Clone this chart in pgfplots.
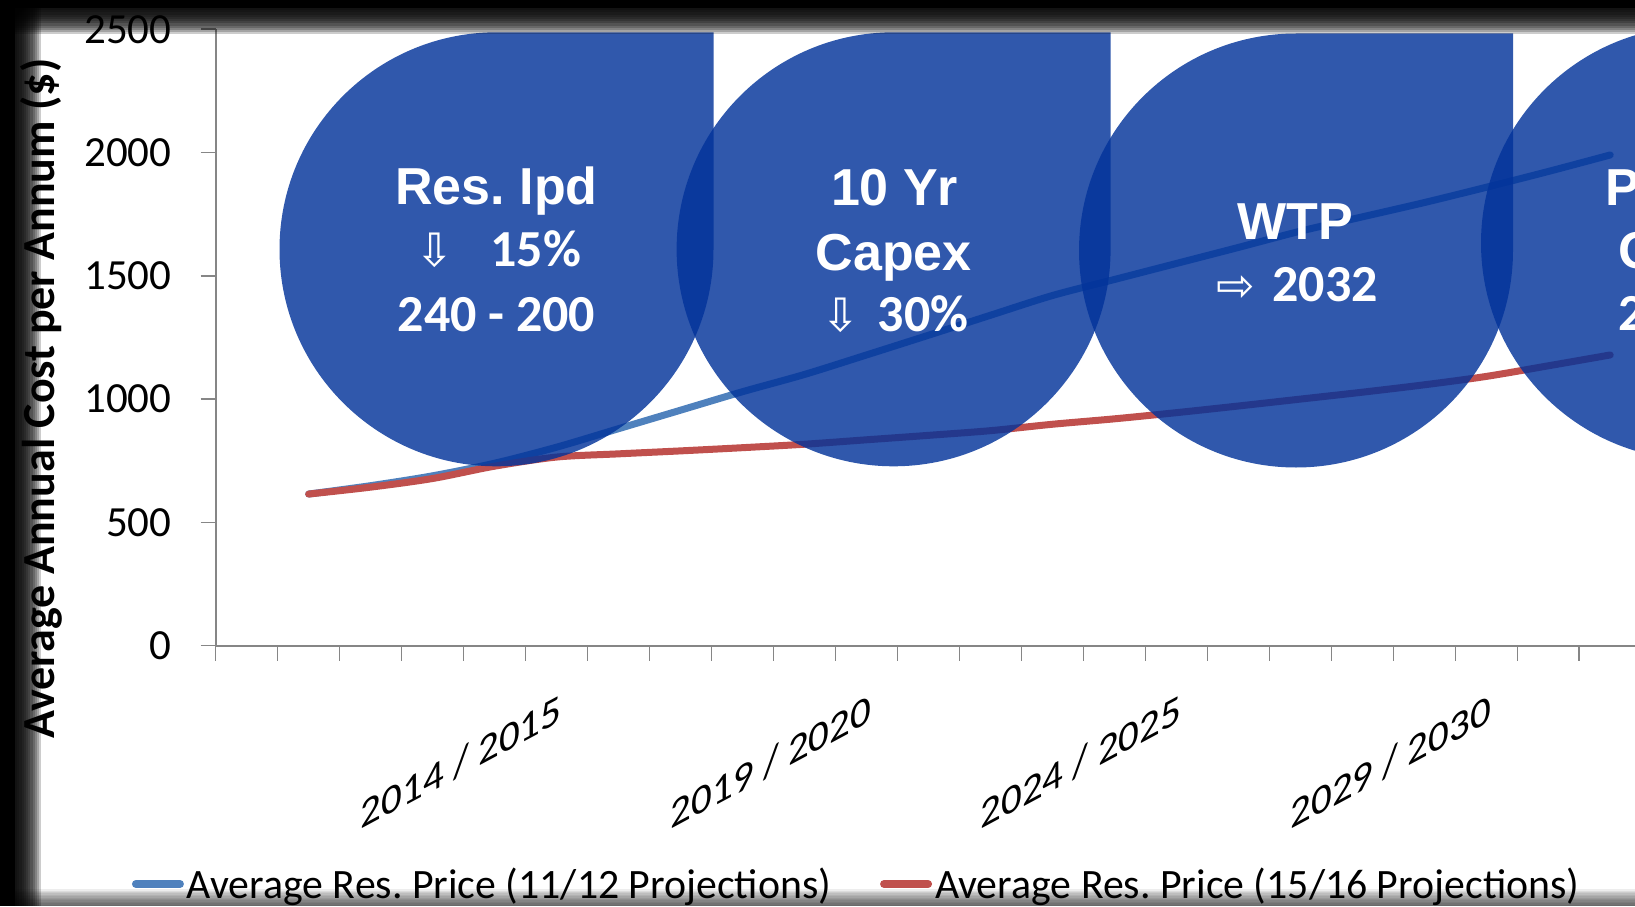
\documentclass[border=0pt]{standalone}
\usepackage{fontspec}
\setmainfont{Carlito}
\newfontfamily\arial{Liberation Sans}
\newfontfamily\dejavu{DejaVu Sans}
\usepackage{pgfplots}
\usepackage{pgfplotstable}
\pgfplotsset{compat=1.18}
\frenchspacing
\definecolor{serA}{RGB}{79,129,189}
\definecolor{serB}{RGB}{192,80,77}
\definecolor{bubble}{RGB}{2,51,154}
\definecolor{axgray}{RGB}{134,134,134}

% Average Res. Price (11/12 Projections); x = category index (1 = 2010/2011)
\pgfplotstableread{
x y
1 615
2 649
3 689
4 740
5 805
6 880
7 955
8 1030
9 1100
10 1179
11 1259
12 1340
13 1420
14 1485
15 1550
16 1615
17 1681
18 1739
19 1797
20 1859
21 1923
22 1990
}\blueT
% Average Res. Price (15/16 Projections)
\pgfplotstableread{
x y
1 615
2 643
3 678
4 728
5 765
6 778
7 790
8 803
9 817
10 835
11 853
12 872
13 898
14 920
15 945
16 972
17 1000
18 1028
19 1058
20 1092
21 1135
22 1179
}\redT

\newcommand\bub[2]{\fill[bubble, fill opacity=0.82] ({#1+217},#2) -- ({#1+217},{#2+217}) -- (#1,{#2+217}) arc[start angle=90,end angle=360,radius=217] -- cycle;}
\newcommand\bigA{\fontsize{52}{52}\selectfont\arial\bfseries}
\newcommand\bigC{\fontsize{52}{52}\selectfont\bfseries}
\newcommand\arr[1]{{\fontsize{46}{46}\selectfont\dejavu #1}}
\tikzset{catlab/.style={anchor=base east, inner sep=0pt, font=\fontsize{41}{41}\selectfont, xshift=5pt, yshift=-76pt, yslant=0.537}}

\begin{document}
\begin{tikzpicture}[x=1pt,y=1pt]
\begin{axis}[
  scale only axis, width=1487.5pt, height=616.5pt,
  xmin=-0.5, xmax=23.5, ymin=0, ymax=2500,
  axis x line=bottom, axis y line=left,
  axis line style={-, draw=axgray, line width=1.8pt},
  xtick={-0.5,0.5,...,23.5}, xticklabels={},
  ytick={0,500,1000,1500,2000,2500},
  tick align=outside, major tick length=15pt,
  tick style={draw=axgray, line width=1.5pt},
  yticklabel style={font=\fontsize{43}{43}\selectfont, inner sep=0pt, anchor=east, xshift=-29pt},
  /pgf/number format/assume math mode=true,
  /pgf/number format/1000 sep={},
  clip=false,
  legend columns=2,
  legend image code/.code={\draw[#1, line width=8pt, line cap=round] (4pt,0pt) -- (48pt,0pt);},
  legend style={at={(axis description cs:-0.0563,-0.3865)}, anchor=west,
    draw=none, fill=none, inner sep=0pt, outer sep=0pt,
    font=\fontsize{41.8}{41.8}\selectfont,
    nodes={inner sep=0pt},
    /tikz/every odd column/.append style={column sep=3pt},
    /tikz/every even column/.append style={column sep=49pt}},
]
\addplot[serA, line width=7pt, smooth, line cap=round, line join=round] table[x=x,y=y]{\blueT};
\addlegendentry{Average Res. Price (11/12 Projections)}
\addplot[serB, line width=7pt, smooth, line cap=round, line join=round] table[x=x,y=y]{\redT};
\addlegendentry{Average Res. Price (15/16 Projections)}
\coordinate (O) at (axis cs:-0.5,0);
\node[catlab] at (axis cs:5,0) {2014 / 2015};
\node[catlab] at (axis cs:10,0) {2019 / 2020};
\node[catlab] at (axis cs:15,0) {2024 / 2025};
\node[catlab] at (axis cs:20,0) {2029 / 2030};
\end{axis}

\begin{scope}[shift={(O)}]
% bubbles (coordinates relative to the axis origin)
\bub{280.8}{396.4}
\bub{677.9}{396.4}
\bub{1080.3}{395.2}
\bub{1482.3}{402.7}

\begin{scope}[every node/.style={text=white, inner sep=0pt, anchor=base}]
\node at (280.8,441.7) {\bigA Res. Ipd};
\node at (282.8,379) {\arr{⇩}\hspace{36pt}{\bigC 15\%}};
\node at (280.8,314.7) {\bigC 240 - 200};
\node at (678.9,440.7) {\bigA 10 Yr};
\node at (677.9,375.7) {\bigA Capex};
\node at (679.3,314) {\arr{⇩}\hspace{18pt}{\bigC 30\%}};
\node at (1079.9,406.4) {\bigA WTP};
\node at (1081.3,344) {\arr{⇨}\hspace{18pt}{\bigC 2032}};
\node at (1468,440.7) {\bigA Power};
\node at (1468,377.7) {\bigA Opex};
\node at (1468,315.7) {\bigC 2 - 3\%};
\end{scope}

% dark frame with soft inner edge
\foreach \k in {1,...,12}{
  \fill[black, opacity=0.2] (-215.7,-260.3) rectangle ({-200.7+2.2*\k},645.7);
  \fill[black, opacity=0.2] (-215.7,645.7) rectangle (1419.3,{637.7-2.2*\k});
  \fill[black, opacity=0.07] (-215.7,-260.3) rectangle (1419.3,{-260.3+1.4*\k});
}
\fill[black] (-215.7,-260.3) rectangle (-200.7,645.7);
\fill[black] (-215.7,645.7) rectangle (1419.3,637.7);

\node[rotate=90, anchor=center, inner sep=0pt] at (-174,247) {\fontsize{46}{46}\selectfont\bfseries Average Annual Cost per Annum (\$)};
\end{scope}
\pgfresetboundingbox
\path[use as bounding box] ([shift={(-215.7,-260.3)}]O) rectangle ([shift={(1419.3,645.7)}]O);
\end{tikzpicture}
\end{document}
